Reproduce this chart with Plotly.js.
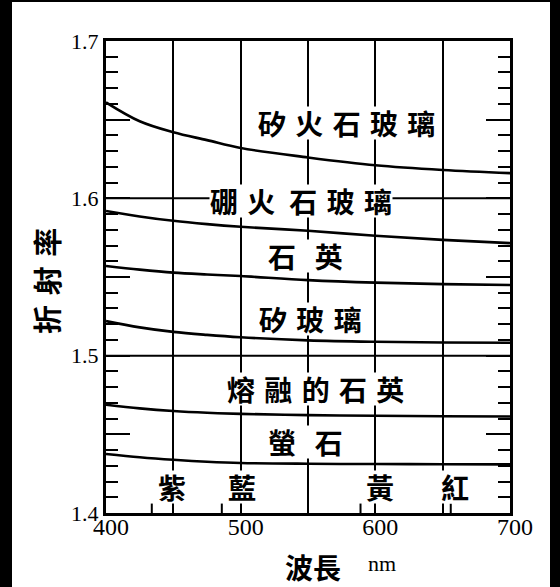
<!DOCTYPE html>
<html>
<head>
<meta charset="utf-8">
<script src="https://cdn.plot.ly/plotly-3.0.1.min.js"></script>
<style>
html,body{margin:0;padding:0;background:#000;width:560px;height:587px;overflow:hidden;}
#chart{position:absolute;left:12px;top:2px;width:538px;height:585px;background:#fff;}
</style>
</head>
<body>
<div id="chart"></div>
<script>
// wavelength (nm)
const wavelengths = [400, 425, 450, 475, 500, 550, 600, 650, 700];
// refractive index of each material
const siliconFlint = [1.661, 1.649, 1.642, 1.637, 1.632, 1.626, 1.621, 1.618, 1.616];
const borateFlint  = [1.592, 1.5885, 1.5857, 1.5836, 1.5819, 1.5794, 1.5762, 1.5736, 1.5715];
const quartz       = [1.557, 1.5547, 1.5528, 1.5516, 1.5506, 1.548, 1.5464, 1.5455, 1.5449];
const silicateGlass= [1.522, 1.518, 1.5151, 1.5132, 1.5117, 1.5097, 1.5088, 1.5084, 1.5082];
const fusedQuartz  = [1.4688, 1.4665, 1.4648, 1.4637, 1.4630, 1.4622, 1.4618, 1.4615, 1.4613];
const fluorite     = [1.4375, 1.4354, 1.4338, 1.4326, 1.4318, 1.4313, 1.4311, 1.4310, 1.4309];
const seriesValues = [siliconFlint, borateFlint, quartz, silicateGlass, fusedQuartz, fluorite];

// material labels and their positions (nm, n)
const materialNames = ['矽\u2004火\u2004石\u2004玻\u2004璃', '硼\u2004火\u2002石\u2004玻\u2004璃', '石\u2004\u2004英', '矽\u2004玻\u2004璃', '熔\u2004融\u2004的\u2004石\u2004英', '螢\u2004\u2004石'];
const labelX = [578.6, 544.8, 547.8, 551.5, 555.2, 548.5];
const labelY = [1.6477, 1.5985, 1.5634, 1.5232, 1.4785, 1.4453];

// spectral colours
const colorNames = ['紫', '藍', '黃', '紅'];
const colorX = [449, 501, 603.5, 659];
const colorY = 1.4166;
const spectralLines = [434, 486, 589, 656];

// reference horizontal lines
const refLines = [1.5, 1.6];

// tick labels
const xTickVals = [400, 450, 500, 550, 600, 650, 700];
const xTickText = ['400', '', '500', '', '600', '', '700'];
const yTickVals = [1.4, 1.45, 1.5, 1.55, 1.6, 1.65, 1.7];
const yTickText = ['1.4', '', '1.5', '', '1.6', '', '1.7'];

const cjk = 'Noto Sans CJK TC';
const serif = 'Liberation Serif';

const traces = [];
refLines.forEach(v => {
  traces.push({x: [wavelengths[0], wavelengths[wavelengths.length - 1]], y: [v, v], mode: 'lines',
    line: {color: '#000', width: 2}, hoverinfo: 'skip', showlegend: false});
});
seriesValues.forEach(vals => {
  traces.push({x: wavelengths, y: vals, mode: 'lines', line: {color: '#000', width: 2.6, shape: 'spline', smoothing: 1},
    showlegend: false});
});

const annotations = [];
materialNames.forEach((t, i) => {
  annotations.push({x: labelX[i], y: labelY[i], xref: 'x', yref: 'y', text: t, showarrow: false,
    xanchor: 'center', yanchor: 'middle',
    font: {family: cjk, size: 28, color: '#000', weight: 'bold'}, bgcolor: '#fff', borderpad: 0, height: 32});
});
colorNames.forEach((t, i) => {
  annotations.push({x: colorX[i], y: colorY, xref: 'x', yref: 'y', text: t, showarrow: false,
    xanchor: 'center', yanchor: 'middle',
    font: {family: cjk, size: 28, color: '#000', weight: 'bold'}, bgcolor: '#fff', borderpad: 0, height: 32});
});
annotations.push({x: -0.1485, y: 0.4915, xref: 'paper', yref: 'paper', text: '折\u2004射\u2004率', textangle: -90,
  xanchor: 'center', yanchor: 'middle',
  showarrow: false, font: {family: cjk, size: 29, color: '#000', weight: 'bold'}});
annotations.push({x: 0.512, y: -0.115, xref: 'paper', yref: 'paper', text: '波長', showarrow: false,
  xanchor: 'center', yanchor: 'middle', height: 32,
  font: {family: cjk, size: 28, color: '#000', weight: 'bold'}});
annotations.push({x: 0.683, y: -0.1065, xref: 'paper', yref: 'paper', text: 'nm', showarrow: false,
  xanchor: 'center', yanchor: 'middle',
  font: {family: serif, size: 22, color: '#000'}});

const shapes = spectralLines.map(w => ({type: 'line', xref: 'x', yref: 'paper', x0: w, x1: w, y0: 0, y1: 0.02,
  line: {color: '#000', width: 2}}));

const layout = {
  width: 538, height: 585,
  margin: {l: 94, r: 40, t: 39, b: 74},
  paper_bgcolor: '#fff', plot_bgcolor: '#fff',
  showlegend: false,
  xaxis: {range: [400, 700], tickvals: xTickVals, ticktext: xTickText, ticks: '', showgrid: true,
    gridcolor: '#000', gridwidth: 2, showline: true, linecolor: '#000', linewidth: 3, mirror: true,
    zeroline: false, ticklabelshift: 5, ticklabelstandoff: -10, tickfont: {family: serif, size: 24, color: '#000'}},
  yaxis: {range: [1.4, 1.7], tickvals: yTickVals, ticktext: yTickText, ticks: 'inside', ticklen: 24,
    tickwidth: 2, tickcolor: '#000', showgrid: false, showline: true, linecolor: '#000', linewidth: 3,
    mirror: 'ticks', zeroline: false, tickfont: {family: serif, size: 22, color: '#000'},
    minor: {dtick: 0.01, ticks: 'inside', ticklen: 12, tickwidth: 2, tickcolor: '#000', showgrid: false}},
  annotations: annotations,
  shapes: shapes
};

Plotly.newPlot('chart', traces, layout, {staticPlot: true, displayModeBar: false});
</script>
</body>
</html>
